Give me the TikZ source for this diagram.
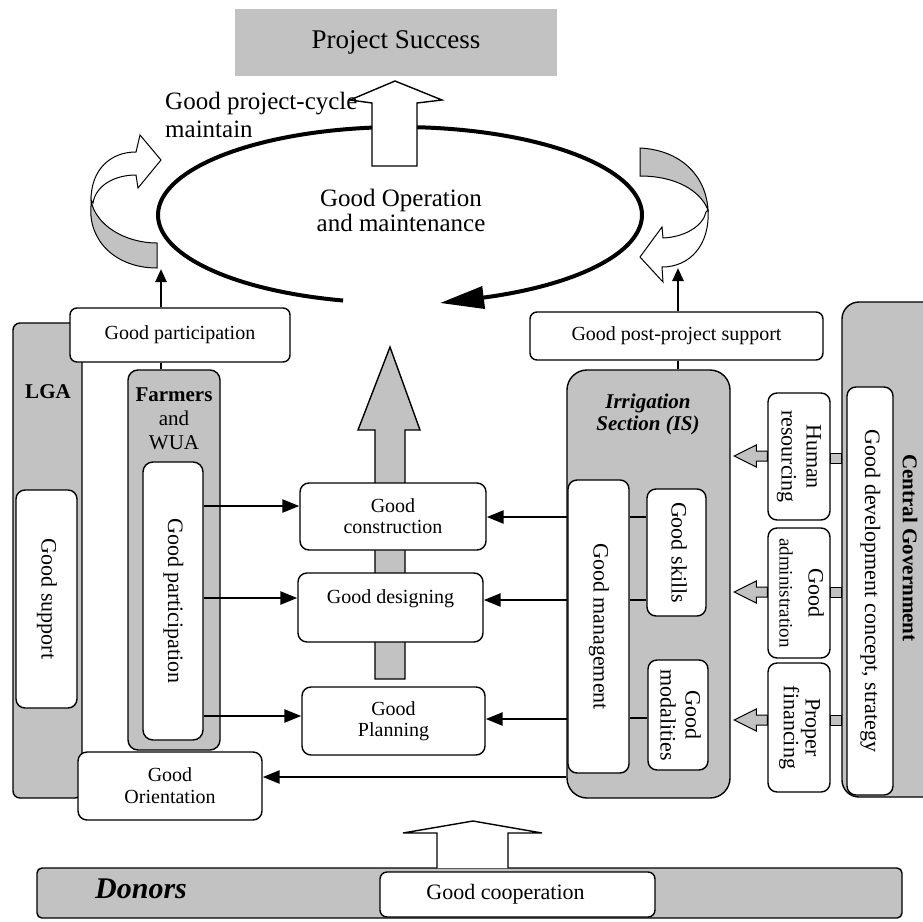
\documentclass[tikz,border=0pt]{standalone}
\usepackage{fontspec}
\setmainfont{Liberation Serif}
\usetikzlibrary{arrows.meta,calc}
\newcommand\fz[2]{\fontsize{#1}{#2}\selectfont}
\newcommand\vt[1]{\rotatebox{-90}{\begin{tabular}{@{}c@{}}#1\end{tabular}}}
\definecolor{shade}{gray}{0.76}
\begin{document}
\begin{tikzpicture}[x=1pt,y=-1pt,
  sz/.style 2 args={minimum width=#1pt, minimum height=#2pt},
  box/.style={draw, fill=white, rounded corners=7pt, line width=1.4pt, inner sep=0pt, align=center},
  gbox/.style={draw, fill=shade, line width=1.4pt, inner sep=0pt},
  arr/.style={line width=2.5pt, -{Triangle[length=17pt,width=13pt]}},
  sarr/.style={line width=2.5pt, -{Triangle[length=13pt,width=11pt]}},
  link/.style={line width=2pt},
  curl/.style={line width=1pt},
  block/.style={line width=1.4pt}]
\path[use as bounding box] (0,0) rectangle (923,921);
\clip (0,0) rectangle (923,921);

% top
\node[fill=shade, sz={322}{67}, inner sep=0pt, font=\fz{27}{30}] (ps) at (396,42.5) {Project Success};

\draw[line width=4pt, -{Triangle[length=44pt,width=22pt]}]
  plot[domain=103.6:429, samples=160] ({400+242*cos(\x)}, {215+88*sin(\x)}) -- (440,303);

\draw[block, fill=white] (372,166) -- (372,103) -- (350,100) -- (395,81) -- (442,100) -- (417,103) -- (417,166) -- cycle;

\node[font=\fz{25}{25}, align=center] (op) at (401,210) {Good Operation\\and maintenance};
\node[font=\fz{25}{28}, align=left, anchor=north west, inner sep=0pt] (cyc) at (165,92) {Good project-cycle\\maintain};

% curled arrows
\draw[curl, fill=shade] (91,200) .. controls (95,225) and (125,243) .. (157,243) -- (157,268) .. controls (115,268) and (88,240) .. (91,206) -- cycle;
\draw[curl, fill=white] (91,200) .. controls (91,170) and (110,152) .. (136,152) -- (140,135) -- (161,160) -- (138,188) -- (136,175) .. controls (115,175) and (96,185) .. (93,203) -- cycle;
\draw[curl, fill=shade] (640,148) .. controls (680,150) and (706,175) .. (708,210) .. controls (700,190) and (675,176) .. (640,176) -- cycle;
\draw[curl, fill=white] (708,210) .. controls (710,245) and (690,267) .. (662,267) -- (663,282) -- (640,257) -- (662,227) -- (663,238) .. controls (685,237) and (703,226) .. (706,212) -- cycle;

\coordinate (lt) at (161,269);
\coordinate (rt) at (678,268);

% left group
\node[gbox, rounded corners=7pt, sz={69}{475}] (lga) at (47.5,560.5) {};
\node[font=\fz{21}{24}\bfseries, anchor=base, inner sep=0pt] (lgat) at (48,398) {LGA};
\node[gbox, rounded corners=10pt, sz={92}{380}] (farm) at (174,560) {};
\node[font=\fz{21}{24}, align=center, anchor=north, inner sep=0pt] (farmt) at (174,388) {\textbf{Farmers}\\and\\WUA};
\node[box, sz={220}{54}, font=\fz{20}{22}] (gp) at (180,335) {Good participation};
\node[box, rounded corners=9pt, sz={61}{218}, font=\fz{22}{25}] (gsup) at (46.5,599) {\vt{Good support}};
\node[box, rounded corners=10pt, sz={60}{278}, font=\fz{22}{25}] (gpv) at (173,601) {\vt{Good participation}};
\node[box, rounded corners=9pt, sz={184}{68}, font=\fz{20}{22}] (gor) at (170,786) {Good\\Orientation};

% centre
\draw[block, fill=shade] (375,679) -- (375,430) -- (358,430) -- (390,347) -- (420,430) -- (405,430) -- (405,679) -- cycle;
\node[box, rounded corners=9pt, sz={186}{67}, font=\fz{20}{21}] (gc) at (393,516.5) {Good\\construction};
\node[box, rounded corners=9pt, sz={185}{69}, font=\fz{20}{22}] (gd) at (390.5,607.5) {Good designing\\\mbox{}};
\node[box, rounded corners=9pt, sz={183}{68}, font=\fz{20}{21}] (gpl) at (393.5,721) {Good\\Planning};

% right group
\node[box, sz={293}{48}, font=\fz{20}{22}] (gpp) at (676.5,336) {Good post-project support};
\node[gbox, rounded corners=20pt, sz={163}{428}] (is) at (648.5,584) {};
\node[font=\fz{21}{22}\bfseries\itshape, align=center] (ist) at (648,414) {Irrigation\\Section (IS)};
\node[box, rounded corners=9pt, sz={61}{293}, font=\fz{22}{25}] (gm) at (598.5,626.5) {\vt{Good management}};
\node[box, rounded corners=9pt, sz={59}{127}, font=\fz{22}{25}] (gs) at (676.5,552.5) {\vt{Good skills}};
\node[box, rounded corners=9pt, sz={60}{110}, font=\fz{22}{25}] (gmod) at (678,715) {\vt{Good\\modalities}};

% central government
\node[gbox, rounded corners=17pt, sz={110}{495}] (cg) at (897,549.5) {};
\node[font=\fz{21}{24}\bfseries, rotate=-90, inner sep=0pt] (cgt) at (910,548) {Central Government};
\node[box, rounded corners=9pt, sz={46}{408}, font=\fz{22}{25}] (gdc) at (870,591) {\vt{Good development concept, strategy}};
\node[box, rounded corners=9pt, sz={62}{127}, font=\fz{22}{25}] (hr) at (799,456.5) {\vt{Human\\resourcing}};
\node[box, rounded corners=9pt, sz={62}{130}, font=\fz{22}{25}] (ga) at (799,593) {\vt{Good\\[4pt]{\fz{19}{20}administration}}};
\node[box, rounded corners=9pt, sz={62}{129}, font=\fz{22}{21}] (pf) at (799,727.5) {\vt{Proper\\financing}};

\foreach \n/\a/\b in {hr/453/463, ga/587/597, pf/715/725}
  \draw[fill=shade, line width=0.8pt] (\n.east |- 0,\a) rectangle (cg.west |- 0,\b);
\foreach \n/\y in {hr/456, ga/592, pf/720}
  \draw[curl, fill=shade] (\n.west |- 0,\y) ++(0,-5) -- ++(-11,0) -- ++(0,-6) -- ++(-22,11) -- ++(22,11) -- ++(0,-6) -- ++(11,0) -- cycle;

% connectors
\foreach \t/\y in {gc/506, gd/598, gpl/716}
  \draw[arr] (gpv.east |- 0,\y) -- (\t.west |- 0,\y);
\foreach \t/\y in {gc/517, gd/600, gpl/719}
  \draw[arr] (gm.west |- 0,\y) -- (\t.east |- 0,\y);
\draw[link] (gm.east |- 0,517) -- (gs.west |- 0,517);
\draw[link] (gm.east |- 0,600) -- (gs.west |- 0,600);
\draw[link] (gm.east |- 0,718) -- (gmod.west |- 0,718);
\draw[arr] (is.west |- 0,777) -- (gor.east |- 0,777);

\draw[sarr] (gp.north -| lt) -- (lt);
\draw[link] (gp.south -| lt) -- (farm.north -| lt);
\draw[sarr] (gpp.north -| rt) -- (rt);
\draw[link] (gpp.south -| rt) -- (is.north -| rt);

% bottom
\node[gbox, rounded corners=5pt, sz={865}{50}] (don) at (469.5,893) {};
\node[font=\fz{30}{32}\bfseries\itshape, anchor=base west, inner sep=0pt] (dont) at (95,898) {Donors};
\node[box, sz={275}{45}, font=\fz{22}{24}] (gco) at (517.5,894.5) {Good cooperation\hspace*{24pt}};
\draw[block, fill=white] (437,868) -- (437,833) -- (403,833) -- (473,821) -- (542,833) -- (508,833) -- (508,868);
\end{tikzpicture}
\end{document}
